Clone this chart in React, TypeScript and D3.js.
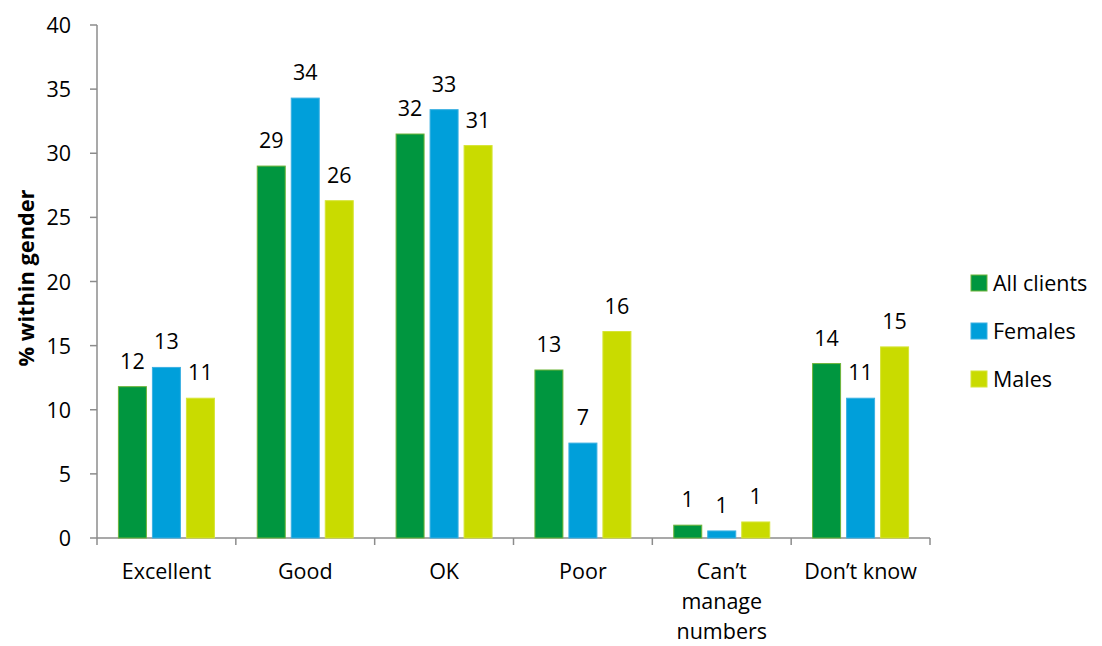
import React from "react";
import * as d3 from "d3";

const categories = ["Excellent", "Good", "OK", "Poor", "Can\u2019t manage numbers", "Don\u2019t know"];
const categoryLines = [["Excellent"], ["Good"], ["OK"], ["Poor"], ["Can\u2019t", "manage", "numbers"], ["Don\u2019t know"]];
const seriesNames = ["All clients", "Females", "Males"];
const allClients = [11.8, 29.0, 31.5, 13.1, 1.0, 13.6];
const females = [13.3, 34.3, 33.4, 7.4, 0.55, 10.9];
const males = [10.9, 26.3, 30.6, 16.1, 1.25, 14.9];
const yTicks = [0, 5, 10, 15, 20, 25, 30, 35, 40];

const fills = ["#00963F", "#009FDA", "#C9DB00"];
const strokes = ["#6FB43A", "#3BB0E2", "#D6E436"];

export default function App() {
  const width = 1102, height = 646;
  const left = 97, right = 930, top = 25, bottom = 538;
  const font = "'Open Sans', Lato, sans-serif";
  const fs = 21.5;
  const x = d3.scaleBand<string>().domain(categories).range([left, right]).paddingInner(0).paddingOuter(0);
  const y = d3.scaleLinear().domain([0, 40]).range([bottom, top]);
  const series = [allClients, females, males];
  const barW = 28, gap = 6;
  const axisColor = "#8C8C8C";

  return (
    <svg width={width} height={height} style={{ position: "absolute", left: 0, top: 0, background: "#fff" }} fontFamily={font}>
      {/* y axis */}
      <line x1={left} x2={left} y1={top} y2={bottom} stroke={axisColor} strokeWidth={1.5} />
      {yTicks.map((t) => (
        <g key={t}>
          <line x1={left - 7} x2={left} y1={y(t)} y2={y(t)} stroke={axisColor} strokeWidth={1.5} />
          <text x={71} y={y(t) + 8} fontSize={fs} textAnchor="end" fill="#000">{t}</text>
        </g>
      ))}
      {/* x axis */}
      <line x1={left} x2={right} y1={bottom} y2={bottom} stroke={axisColor} strokeWidth={1.5} />
      {categories.map((c, i) => (
        <line key={"t" + i} x1={x(c)!} x2={x(c)!} y1={bottom} y2={bottom + 7} stroke={axisColor} strokeWidth={1.5} />
      ))}
      <line x1={right} x2={right} y1={bottom} y2={bottom + 7} stroke={axisColor} strokeWidth={1.5} />
      {/* bars */}
      {categories.map((c, i) => {
        const cx = x(c)! + x.bandwidth() / 2;
        const groupW = barW * 3 + gap * 2;
        return (
          <g key={c}>
            {series.map((s, j) => {
              const bx = cx - groupW / 2 + j * (barW + gap);
              const v = s[i];
              return (
                <g key={j}>
                  <rect x={bx} y={y(v)} width={barW} height={bottom - y(v)} fill={fills[j]} stroke={strokes[j]} strokeWidth={1} />
                  <text x={bx + barW / 2} y={y(v) - 18} fontSize={fs} textAnchor="middle" fill="#000">{Math.round(v)}</text>
                </g>
              );
            })}
            <text x={cx} y={579} fontSize={fs} textAnchor="middle" fill="#000">
              {categoryLines[i].map((l, k) => (
                <tspan key={k} x={cx} dy={k === 0 ? 0 : 30}>{l}</tspan>
              ))}
            </text>
          </g>
        );
      })}
      {/* y label */}
      <text transform={`translate(34, 278) rotate(-90)`} fontSize={21} fontWeight="bold" textAnchor="middle" fill="#000" textLength={177} lengthAdjust="spacingAndGlyphs">% within gender</text>
      {/* legend */}
      {seriesNames.map((n, j) => (
        <g key={n} transform={`translate(971, ${283 + j * 48})`}>
          <rect x={0} y={-8} width={16} height={16} fill={fills[j]} stroke={strokes[j]} strokeWidth={1} />
          <text x={22} y={8} fontSize={fs} fill="#000">{n}</text>
        </g>
      ))}
    </svg>
  );
}
